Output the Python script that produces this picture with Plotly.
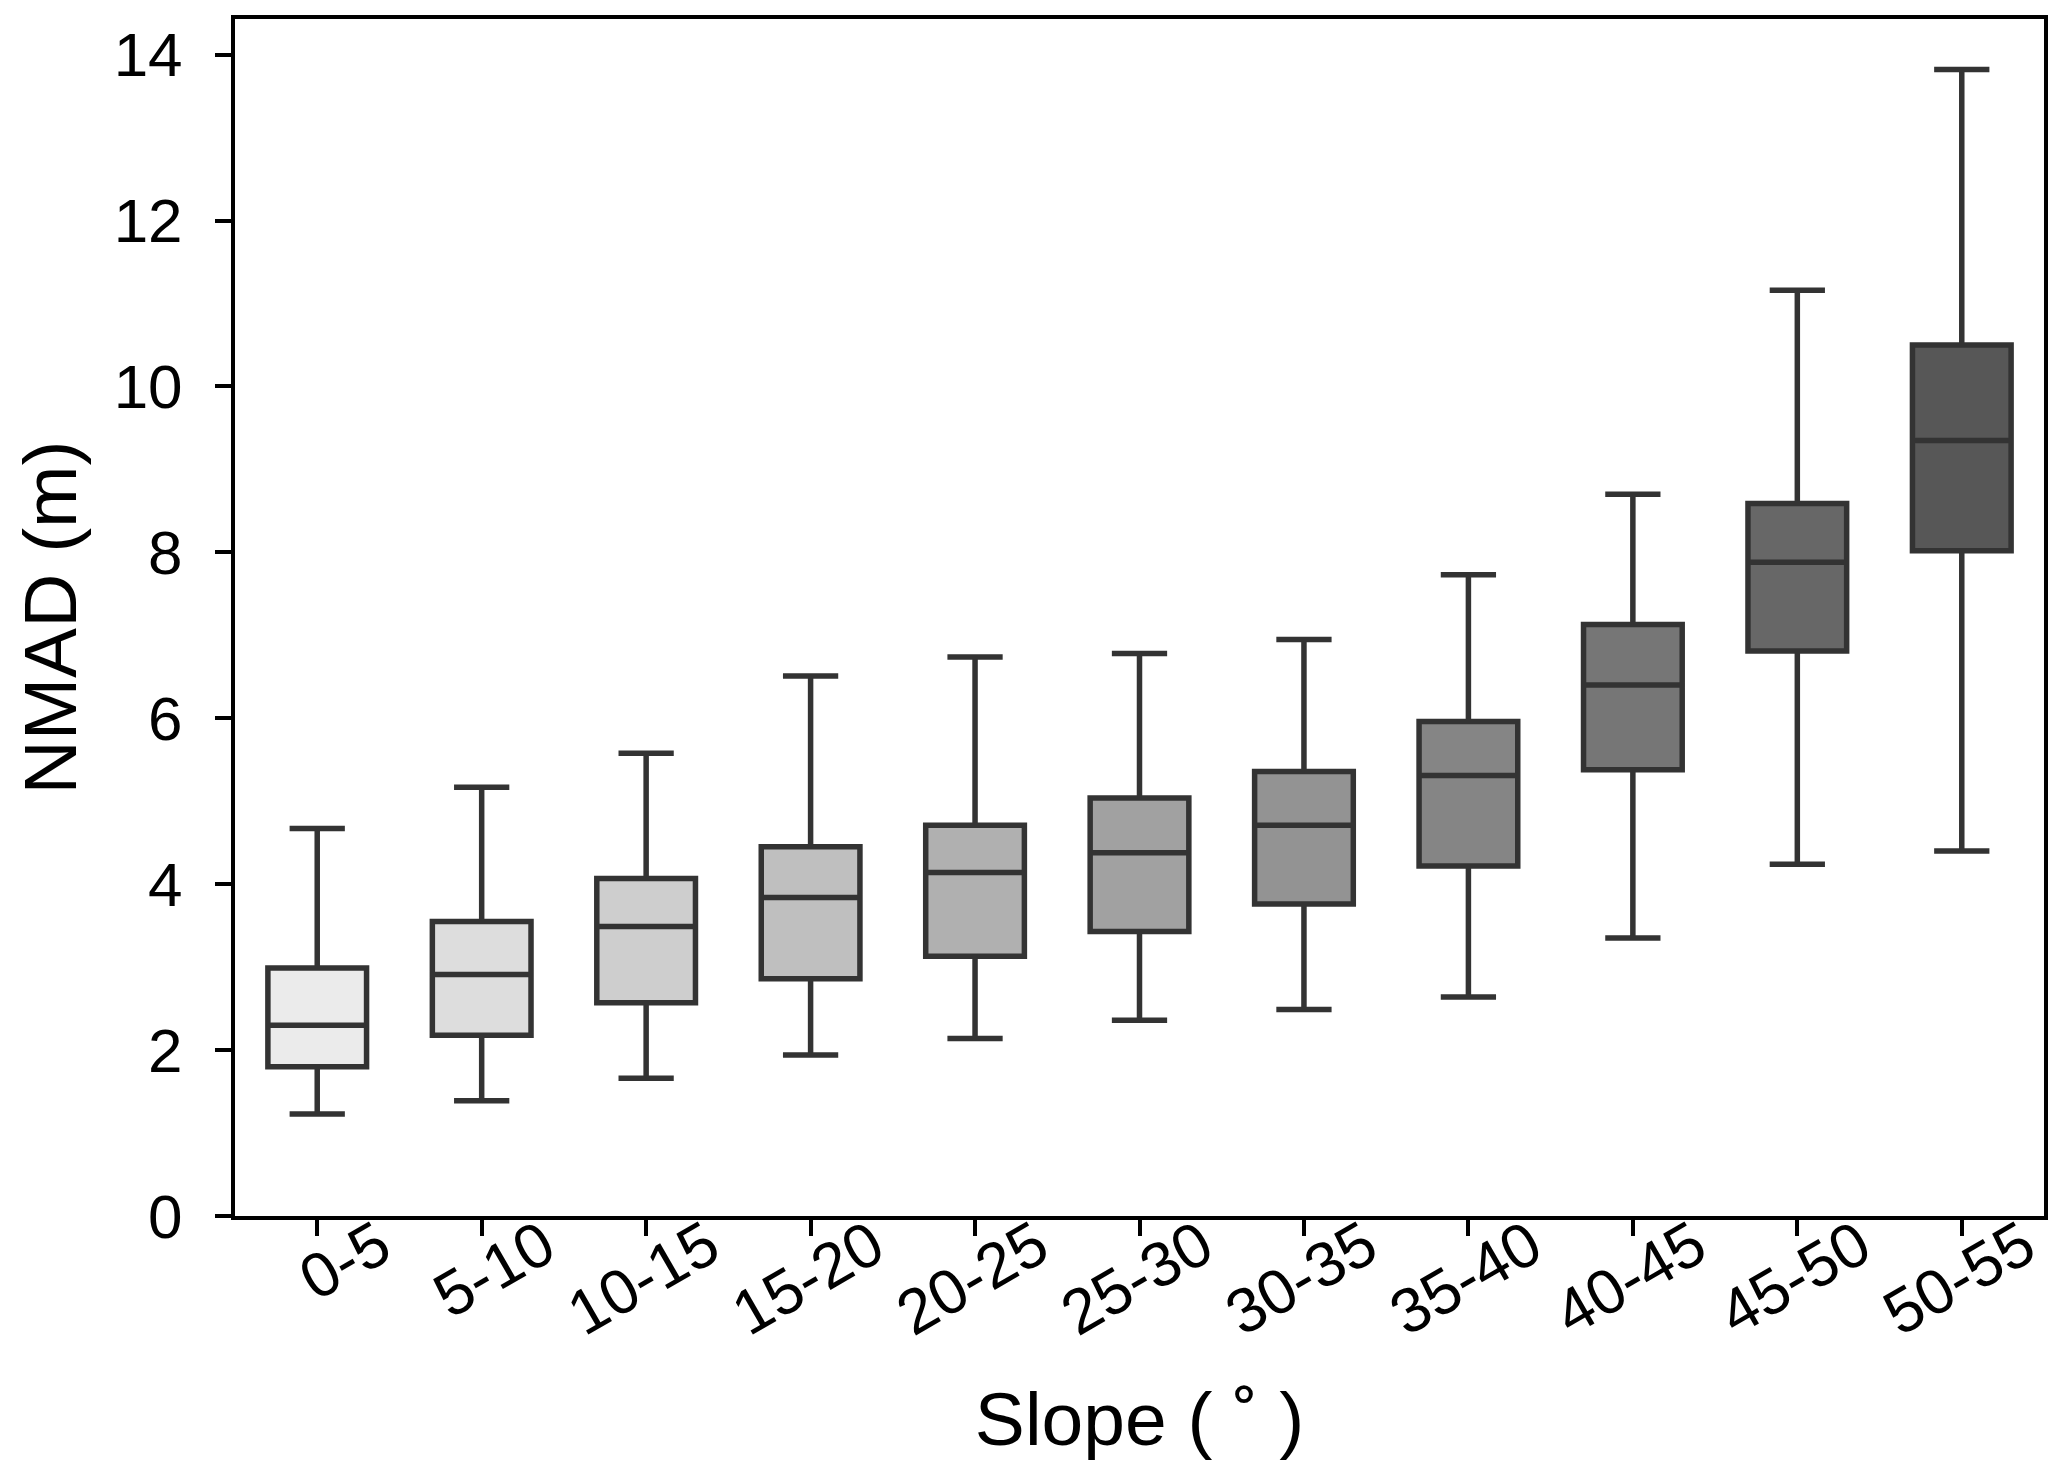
import plotly.graph_objects as go

categories = ["0-5", "5-10", "10-15", "15-20", "20-25", "25-30",
              "30-35", "35-40", "40-45", "45-50", "50-55"]
lower_whisker = [1.23, 1.39, 1.66, 1.94, 2.14, 2.36, 2.49, 2.64, 3.35, 4.24, 4.40]
q1_values = [1.80, 2.18, 2.57, 2.86, 3.13, 3.43, 3.76, 4.22, 5.38, 6.81, 8.02]
median_values = [2.30, 2.91, 3.49, 3.84, 4.14, 4.38, 4.71, 5.31, 6.40, 7.88, 9.35]
q3_values = [2.99, 3.55, 4.07, 4.45, 4.71, 5.04, 5.36, 5.96, 7.13, 8.59, 10.50]
upper_whisker = [4.67, 5.17, 5.58, 6.51, 6.74, 6.78, 6.95, 7.73, 8.70, 11.16, 13.82]
fill_colors = ["#ebebeb", "#dddddd", "#cecece", "#bfbfbf", "#b0b0b0", "#a1a1a1",
               "#939393", "#858585", "#767676", "#676767", "#575757"]
y_ticks = [0, 2, 4, 6, 8, 10, 12, 14]

FONT = "Liberation Sans, Arial, sans-serif"
LINE = "#333333"

fig = go.Figure()
for i, cat in enumerate(categories):
    fig.add_trace(go.Box(
        x=[cat],
        q1=[q1_values[i]],
        median=[median_values[i]],
        q3=[q3_values[i]],
        lowerfence=[lower_whisker[i]],
        upperfence=[upper_whisker[i]],
        fillcolor=fill_colors[i],
        line=dict(color=LINE, width=5.5),
        width=0.6,
        whiskerwidth=0.56,
        boxpoints=False,
        showlegend=False,
        hoverinfo="skip",
    ))

# page body has an 8px margin, so the figure is drawn 16px smaller
fig.update_layout(
    width=2051,
    height=1458,
    margin=dict(l=227, r=15, t=11, b=250, autoexpand=False),
    paper_bgcolor="white",
    plot_bgcolor="white",
    boxmode="overlay",
    font=dict(family=FONT, color="black"),
    showlegend=False,
)

fig.update_xaxes(
    type="category",
    categoryorder="array",
    categoryarray=categories,
    range=[-0.5, 10.5],
    showline=True, linecolor="black", linewidth=4, mirror=True,
    ticks="outside", ticklen=16, tickwidth=4, tickcolor="black",
    tickangle=-30,
    tickfont=dict(family=FONT, size=63, color="black"),
    ticklabelshift=62,
    ticklabelstandoff=-51,
    showgrid=False, zeroline=False,
    title=dict(text="Slope ( \u02da )", font=dict(family=FONT, size=75, color="black"), standoff=46),
    automargin=False,
)

fig.update_yaxes(
    range=[0, 14.43],
    tickvals=y_ticks,
    ticktext=[str(v) for v in y_ticks],
    showline=True, linecolor="black", linewidth=4, mirror=True,
    ticks="outside", ticklen=16, tickwidth=4, tickcolor="black",
    tickfont=dict(family=FONT, size=62, color="black"),
    ticklabelstandoff=20,
    showgrid=False, zeroline=False,
    title=dict(text="NMAD (m)", font=dict(family=FONT, size=75, color="black"), standoff=40),
    automargin=False,
)

fig.write_html("out.html")
